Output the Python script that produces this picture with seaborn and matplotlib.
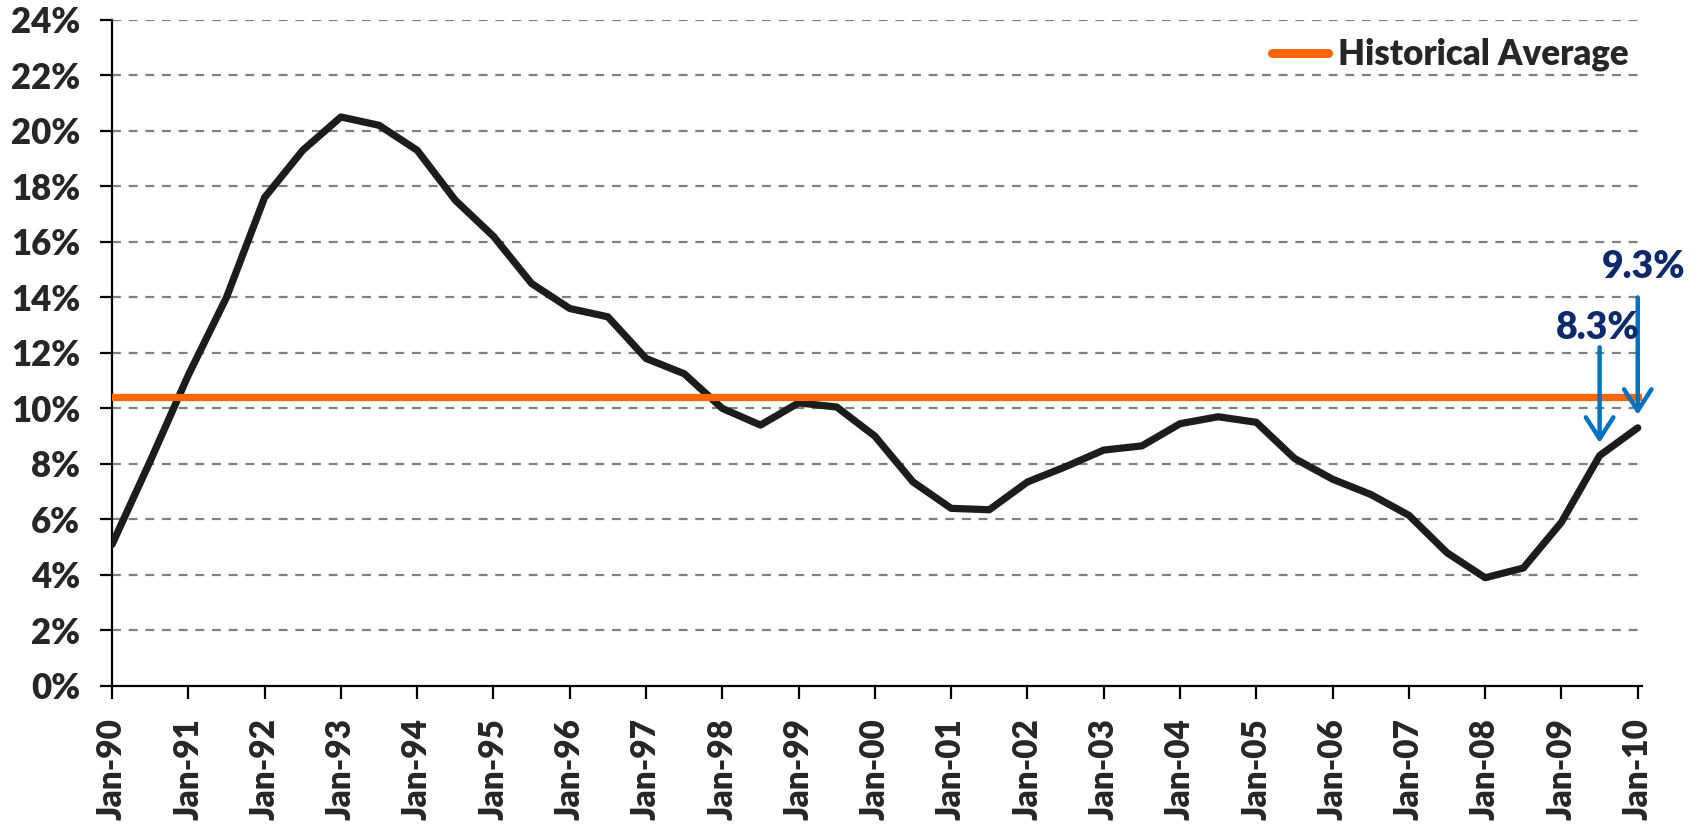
import numpy as np
import pandas as pd
import matplotlib.pyplot as plt
import matplotlib.lines as mlines
import seaborn as sns

# semi-annual observations, Jan-90 .. Jan-10
tick_labels = ["Jan-90", "Jan-91", "Jan-92", "Jan-93", "Jan-94", "Jan-95",
               "Jan-96", "Jan-97", "Jan-98", "Jan-99", "Jan-00", "Jan-01",
               "Jan-02", "Jan-03", "Jan-04", "Jan-05", "Jan-06", "Jan-07",
               "Jan-08", "Jan-09", "Jan-10"]
period = list(range(41))
rate = [5.1, 8.1, 11.2, 14.0, 17.6, 19.3, 20.5, 20.2, 19.3, 17.5,
        16.2, 14.5, 13.6, 13.3, 11.8, 11.25, 10.0, 9.4, 10.2, 10.05,
        9.0, 7.35, 6.4, 6.35, 7.35, 7.9, 8.5, 8.65, 9.45, 9.7,
        9.5, 8.2, 7.45, 6.9, 6.15, 4.8, 3.9, 4.25, 5.9, 8.3,
        9.3]
hist_avg = 10.4
yticks = list(range(0, 25, 2))

# callouts: label, period index
note_labels = ["8.3%", "9.3%"]
note_period = [39, 40]

df = pd.DataFrame({"period": period, "rate": rate})

sns.set_theme(style="white")
plt.rcParams["font.family"] = ["Lato", "DejaVu Sans"]
plt.rcParams["font.weight"] = "bold"
W = "heavy"

fig = plt.figure(figsize=(17.08, 8.26), dpi=100)
ax = fig.add_axes([0.0656, 0.1695, 0.8955, 0.8065])

# grid
for y in yticks[1:]:
    ax.axhline(y, color="#808080", lw=1.6, ls=(0, (4, 3.5)), zorder=1)

sns.lineplot(data=df, x="period", y="rate", color="#1c1c1c",
             linewidth=5.2, ax=ax, zorder=3)
ax.axhline(hist_avg, color="#FF6600", lw=5.2, zorder=4)

ax.set_xlim(0, 40.1)
ax.set_ylim(0, 24)
ax.set_xticks(period[::2])
ax.set_xticklabels(tick_labels, rotation=90)
ax.set_yticks(yticks)
ax.set_yticklabels([f"{y}%" for y in yticks])
ax.set_xlabel("")
ax.set_ylabel("")

for side in ["top", "right"]:
    ax.spines[side].set_visible(False)
for side in ["left", "bottom"]:
    ax.spines[side].set_color("black")
    ax.spines[side].set_linewidth(1.6)

ax.tick_params(axis="y", direction="out", length=9, width=1.6,
               color="black", pad=14, labelsize=25)
ax.tick_params(axis="x", direction="out", length=9, width=1.6,
               color="black", pad=14, labelsize=24)
ax.tick_params(left=True, bottom=True)
for lbl in ax.get_xticklabels() + ax.get_yticklabels():
    lbl.set_fontweight(W)

# callout arrows
arrow_top = [12.2, 14.0]
arrow_tip = [8.76, 9.77]
text_xy = [(38.95, 12.9), (40.15, 15.1)]
for lbl, px, y0, y1, (tx, ty) in zip(note_labels, note_period,
                                      arrow_top, arrow_tip, text_xy):
    ax.annotate("", xy=(px, y1), xytext=(px, y0),
                arrowprops=dict(arrowstyle="->,head_length=0.7,head_width=0.45",
                                color="#0070C0", lw=3.2, mutation_scale=22,
                                shrinkA=0, shrinkB=0),
                zorder=5, annotation_clip=False)
    ax.text(tx, ty, lbl, color="#0F2A6B", fontsize=27, fontweight=W,
            ha="center", va="center", zorder=6, clip_on=False)

handle = mlines.Line2D([], [], color="#FF6600", lw=6.5,
                       solid_capstyle="round")
leg = ax.legend([handle], ["Historical Average"], loc="upper right",
                bbox_to_anchor=(1.012, 1.02), frameon=False,
                handlelength=1.6, handletextpad=0.3,
                prop={"size": 25, "weight": W})

plt.savefig("out.png", dpi=100)
plt.close()
print("Saved: out.png")
